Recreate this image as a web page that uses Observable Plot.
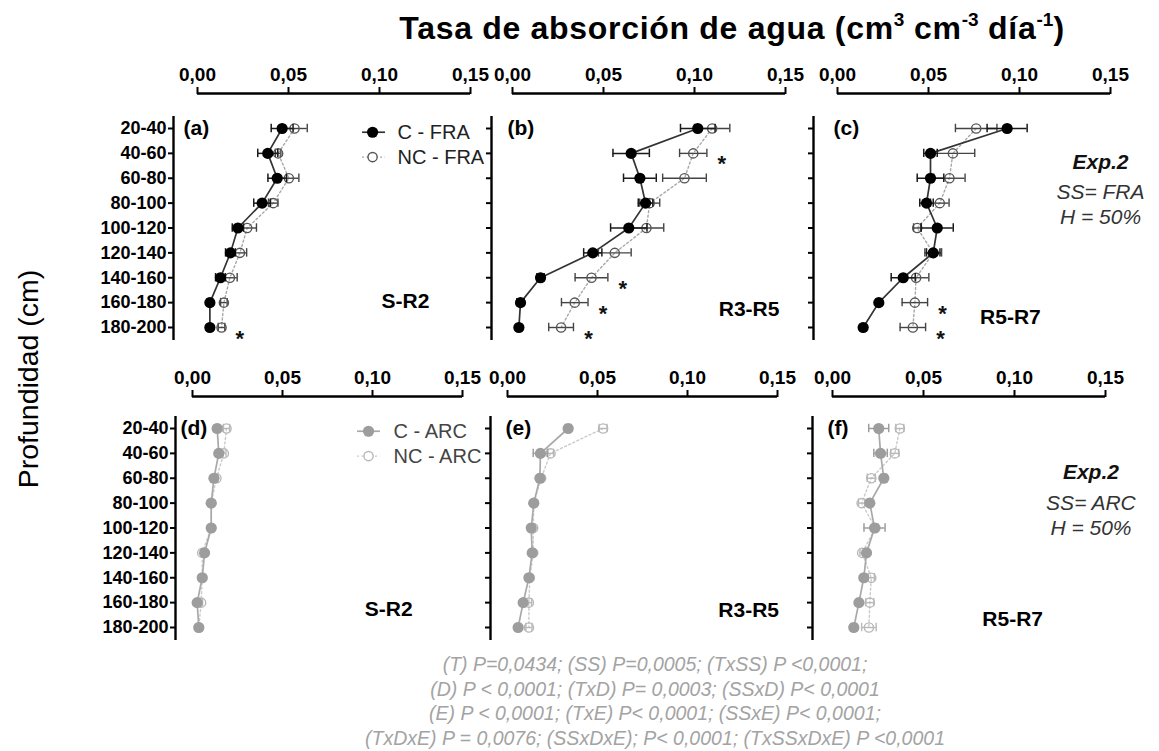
<!DOCTYPE html>
<html><head><meta charset="utf-8">
<script src="https://cdn.jsdelivr.net/npm/d3@7"></script>
<script src="https://cdn.jsdelivr.net/npm/@observablehq/plot@0.6"></script>
<style>
html,body{margin:0;padding:0;background:#fff;}
#root{position:relative;width:1159px;height:751px;overflow:hidden;font-family:"Liberation Sans",Arial,sans-serif;color:#000;}
.abs{position:absolute;}
#title{left:232px;width:1000px;top:9px;text-align:center;font-weight:bold;font-size:32px;letter-spacing:0.7px;white-space:nowrap;line-height:38px;}
#title sup{font-size:19px;vertical-align:0;position:relative;top:-13px;letter-spacing:0;}
#ytitle{left:28px;top:379px;transform:translate(-50%,-50%) rotate(-90deg);font-size:28.5px;white-space:nowrap;}
#caption{left:205px;width:900px;top:652px;text-align:center;font-style:italic;color:#a3a3a3;font-size:19.5px;line-height:24.7px;white-space:nowrap;}
</style></head><body><div id="root">
<div id="title" class="abs"></div>
<div id="ytitle" class="abs"></div>
<div id="caption" class="abs"></div>
</div><script>
// ---------- data ----------
const depths = ["20-40","40-60","60-80","80-100","100-120","120-140","140-160","160-180","180-200"];
const xTicks = [0, 0.05, 0.10, 0.15];
const panelLetters = ["(a)","(b)","(c)","(d)","(e)","(f)"];
const stages = ["S-R2","R3-R5","R5-R7"];
const seriesFRA = ["C - FRA","NC - FRA"];
const seriesARC = ["C - ARC","NC - ARC"];
const notesFRA = ["Exp.2","SS= FRA","H = 50%"];
const notesARC = ["Exp.2","SS= ARC","H = 50%"];
const titleText = "Tasa de absorción de agua (cm<sup>3</sup> cm<sup>-3</sup> día<sup>-1</sup>)";
const yTitleText = "Profundidad (cm)";
const captionLines = [
  "(T) P=0,0434; (SS) P=0,0005; (TxSS) P <0,0001;",
  "(D) P < 0,0001; (TxD) P= 0,0003; (SSxD) P< 0,0001",
  "(E) P < 0,0001; (TxE) P< 0,0001; (SSxE) P< 0,0001;",
  "(TxDxE) P = 0,0076; (SSxDxE); P< 0,0001; (TxSSxDxE) P <0,0001"
];

// (a) S-R2, FRA
const a_C     = [0.0465,0.0386,0.0438,0.0355,0.0222,0.0181,0.0126,0.0068,0.0068];
const a_C_err = [0.0060,0.0055,0.0051,0.0046,0.0031,0.0027,0.0027,0.0015,0.0005];
const a_NC    = [0.0533,0.0443,0.0502,0.0416,0.0273,0.0233,0.0178,0.0145,0.0132];
const a_NC_err= [0.0070,0.0015,0.0055,0.0026,0.0051,0.0037,0.0040,0.0018,0.0018];
const a_sig   = [0,0,0,0,0,0,0,0,1];
// (b) R3-R5, FRA
const b_C     = [0.1018,0.0652,0.0700,0.0731,0.0639,0.0441,0.0154,0.0044,0.0035];
const b_C_err = [0.0095,0.0100,0.0090,0.0040,0.0100,0.0050,0.0020,0.0020,0.0005];
const b_NC    = [0.1097,0.0993,0.0945,0.0754,0.0736,0.0562,0.0434,0.0342,0.0267];
const b_NC_err= [0.0097,0.0075,0.0120,0.0055,0.0095,0.0090,0.0090,0.0073,0.0068];
const b_sig   = [0,1,0,0,0,0,1,1,1];
// (c) R5-R7, FRA
const c_C     = [0.0932,0.0511,0.0511,0.0489,0.0548,0.0526,0.0361,0.0227,0.0141];
const c_C_err = [0.0110,0.0037,0.0073,0.0037,0.0088,0.0037,0.0066,0.0015,0.0008];
const c_NC    = [0.0762,0.0634,0.0615,0.0562,0.0438,0.0526,0.0432,0.0425,0.0414];
const c_NC_err= [0.0114,0.0120,0.0086,0.0051,0.0020,0.0046,0.0070,0.0070,0.0070];
const c_sig   = [0,0,0,0,0,0,0,1,1];
// (d) S-R2, ARC
const d_C     = [0.0137,0.0146,0.0119,0.0104,0.0104,0.0067,0.0054,0.0026,0.0035];
const d_C_err = [0.0008,0.0008,0.0008,0.0006,0.0006,0.0010,0.0006,0.0010,0.0006];
const d_NC    = [0.0189,0.0174,0.0133,0.0104,0.0104,0.0054,0.0054,0.0048,0.0035];
const d_NC_err= [0.0017,0.0012,0.0008,0.0005,0.0005,0.0008,0.0005,0.0008,0.0005];
const d_sig   = [0,0,0,0,0,0,0,0,0];
// (e) R3-R5, ARC
const e_C     = [0.0337,0.0183,0.0180,0.0146,0.0132,0.0137,0.0119,0.0087,0.0059];
const e_C_err = [0.0015,0.0040,0.0012,0.0010,0.0012,0.0012,0.0012,0.0012,0.0010];
const e_NC    = [0.0531,0.0239,0.0187,0.0146,0.0143,0.0143,0.0124,0.0119,0.0119];
const e_NC_err= [0.0022,0.0017,0.0012,0.0008,0.0010,0.0010,0.0010,0.0015,0.0017];
const e_sig   = [0,0,0,0,0,0,0,0,0];
// (f) R5-R7, ARC
const f_C     = [0.0254,0.0264,0.0282,0.0205,0.0231,0.0187,0.0172,0.0145,0.0117];
const f_C_err = [0.0055,0.0037,0.0015,0.0015,0.0058,0.0012,0.0012,0.0012,0.0015];
const f_NC    = [0.0370,0.0342,0.0213,0.0160,0.0236,0.0163,0.0213,0.0205,0.0200];
const f_NC_err= [0.0022,0.0022,0.0022,0.0017,0.0015,0.0012,0.0017,0.0022,0.0040];
const f_sig   = [0,0,0,0,0,0,0,0,0];

// ---------- layout / style ----------
const FONT = "Liberation Sans, Arial, sans-serif";
const rowsLayout = [
  {xAxisY: 93, row0: 128, row8: 327, yTopPx: 116, yBotPx: 340},
  {xAxisY: 396, row0: 428, row8: 627, yTopPx: 416, yBotPx: 640}
];
const colsLayout = [
  [{ax:173,x0:197,x15:470},{ax:491,x0:512,x15:785},{ax:813,x0:837,x15:1110}],
  [{ax:175,x0:192,x15:462},{ax:490,x0:507,x15:777},{ax:812,x0:832,x15:1105}]
];
const fraStyle = {cFill:"#000", cLine:"#333", cErr:"#1a1a1a", ncStroke:"#555", ncLine:"#a8a8a8", ncErr:"#444", text:"#222"};
const arcStyle = {cFill:"#9d9d9d", cLine:"#a9a9a9", cErr:"#9d9d9d", ncStroke:"#b8b8b8", ncLine:"#cacaca", ncErr:"#b8b8b8", text:"#444"};

const fmt = d => d3.format(".2f")(d).replace(".", ",");
const root = document.getElementById("root");
document.getElementById("title").innerHTML = titleText;
document.getElementById("ytitle").textContent = yTitleText;
document.getElementById("caption").innerHTML = captionLines.join("<br>");

function makePanel(p) {
  const L = rowsLayout[p.row], Cc = colsLayout[p.row][p.col];
  const ML = p.col === 0 ? 80 : 20;
  const MR = p.col === 2 ? (1159 - Cc.x15) : 14;
  const MT = 45, MB = 8;
  const width = ML + (Cc.x15 - Cc.ax) + MR;
  const height = MT + (L.yBotPx - L.xAxisY) + MB;
  const xmin = -(Cc.x0 - Cc.ax) / (Cc.x15 - Cc.x0) * 0.15;
  const r = (L.row8 - L.row0) / 8;
  const yT = (L.xAxisY - L.row0) / r, yB = (L.yBotPx - L.row0) / r, yA = (L.yTopPx - L.row0) / r;
  const st = p.style;
  const rows = depths.map((d, i) => ({i, depth: d, c: p.C[i], ce: p.Cerr[i], nc: p.NC[i], nce: p.NCerr[i], sig: p.sig[i]}));
  const cap = 0.17;
  const errMarks = (v, e, color, w) => [
    Plot.ruleY(rows, {y: "i", x1: d => d[v] - d[e], x2: d => d[v] + d[e], stroke: color, strokeWidth: w}),
    Plot.ruleX(rows, {x: d => d[v] - d[e], y1: d => d.i - cap, y2: d => d.i + cap, stroke: color, strokeWidth: w}),
    Plot.ruleX(rows, {x: d => d[v] + d[e], y1: d => d.i - cap, y2: d => d.i + cap, stroke: color, strokeWidth: w})
  ];
  const marks = [
    Plot.ruleX([xmin], {y1: yA, y2: yB, stroke: "#000", strokeWidth: 2.4}),
    Plot.ruleY([yT], {x1: 0, x2: 0.15, stroke: "#000", strokeWidth: 2.4}),
    Plot.axisX({anchor: "top", ticks: xTicks, tickFormat: fmt, tickSize: 7, tickPadding: 6, fontSize: 19, fontWeight: "bold", strokeWidth: 2, label: null}),
    Plot.axisY({anchor: "left", ticks: depths.map((_, i) => i), tickFormat: p.col === 0 ? (i => depths[i]) : (() => ""), tickSize: 5, tickPadding: 2, fontSize: 18, fontWeight: "bold", strokeWidth: 2, label: null}),
    Plot.line(rows, {x: "nc", y: "i", stroke: st.ncLine, strokeWidth: 1.4, strokeDasharray: "2,2.5"}),
    Plot.line(rows, {x: "c", y: "i", stroke: st.cLine, strokeWidth: 1.7}),
    ...errMarks("nc", "nce", st.ncErr, 1.4),
    Plot.dot(rows, {x: "nc", y: "i", r: 4.6, stroke: st.ncStroke, fill: "none", strokeWidth: 1.4}),
    ...errMarks("c", "ce", st.cErr, 1.5),
    Plot.dot(rows, {x: "c", y: "i", r: 5.6, fill: st.cFill, stroke: "none"}),
    Plot.text(rows.filter(d => d.sig), {x: d => Math.max(d.nc + d.nce, d.c + d.ce), y: "i", text: () => "*", dx: 15, dy: 11, fontSize: 22, fontWeight: "bold", fill: "#111"}),
    Plot.text([p.letter], {x: () => xmin, y: () => 0, text: d => d, dx: p.letterDx, textAnchor: "start", fontSize: 21, fontWeight: "bold"}),
    Plot.text([p.stage], {x: () => p.stageX, y: () => p.stageRow, text: d => d, fontSize: 21, fontWeight: "bold"})
  ];
  if (p.legend) {
    const lg = p.legend;
    marks.push(
      Plot.ruleY([lg.rows[0]], {x1: lg.x1, x2: lg.x2, stroke: st.cLine, strokeWidth: 1.7}),
      Plot.dot([lg.rows[0]], {x: () => lg.xd, y: d => d, r: 5.6, fill: st.cFill}),
      Plot.ruleY([lg.rows[1]], {x1: lg.x1, x2: lg.x2, stroke: st.ncLine, strokeWidth: 1.4, strokeDasharray: "2,2.5"}),
      Plot.dot([lg.rows[1]], {x: () => lg.xd, y: d => d, r: 4.6, stroke: st.ncStroke, fill: "white", strokeWidth: 1.4}),
      Plot.text(lg.names, {x: () => lg.xt, y: (d, i) => lg.rows[i], text: d => d, textAnchor: "start", fontSize: 20, fill: st.text})
    );
  }
  if (p.notes) {
    const n = p.notes;
    marks.push(
      Plot.text([n.text[0]], {x: () => n.x, y: () => n.rows[0], text: d => d, fontSize: 21, fontWeight: "bold", fontStyle: "italic", fill: "#111"}),
      Plot.text(n.text.slice(1), {x: () => n.x, y: (d, i) => n.rows[i + 1], text: d => d, fontSize: 21, fontStyle: "italic", fill: "#333"})
    );
  }
  const svg = Plot.plot({
    width, height, marginLeft: ML, marginRight: MR, marginTop: MT, marginBottom: MB,
    x: {domain: [xmin, 0.15]},
    y: {domain: [yB, yT]},
    style: {fontFamily: FONT, color: "#000", background: "transparent", overflow: "visible"},
    marks
  });
  svg.style.position = "absolute";
  svg.style.left = (Cc.ax - ML) + "px";
  svg.style.top = (L.xAxisY - MT) + "px";
  root.appendChild(svg);
}

makePanel({row:0, col:0, C:a_C, Cerr:a_C_err, NC:a_NC, NCerr:a_NC_err, sig:a_sig, style:fraStyle, letter:panelLetters[0], letterDx:10, stage:stages[0], stageX:0.1143, stageRow:6.95,
  legend:{rows:[0.15,1.15], x1:0.0907, x2:0.1033, xd:0.0962, xt:0.1099, names:seriesFRA}});
makePanel({row:0, col:1, C:b_C, Cerr:b_C_err, NC:b_NC, NCerr:b_NC_err, sig:b_sig, style:fraStyle, letter:panelLetters[1], letterDx:16, stage:stages[1], stageX:0.130, stageRow:7.25});
makePanel({row:0, col:2, C:c_C, Cerr:c_C_err, NC:c_NC, NCerr:c_NC_err, sig:c_sig, style:fraStyle, letter:panelLetters[2], letterDx:20, stage:stages[2], stageX:0.095, stageRow:7.6,
  notes:{text:notesFRA, x:0.1445, rows:[1.35,2.57,3.58]}});
makePanel({row:1, col:0, C:d_C, Cerr:d_C_err, NC:d_NC, NCerr:d_NC_err, sig:d_sig, style:arcStyle, letter:panelLetters[3], letterDx:5, stage:stages[0], stageX:0.109, stageRow:7.25,
  legend:{rows:[0.11,1.11], x1:0.0917, x2:0.1044, xd:0.0978, xt:0.1117, names:seriesARC}});
makePanel({row:1, col:1, C:e_C, Cerr:e_C_err, NC:e_NC, NCerr:e_NC_err, sig:e_sig, style:arcStyle, letter:panelLetters[4], letterDx:15, stage:stages[1], stageX:0.134, stageRow:7.3});
makePanel({row:1, col:2, C:f_C, Cerr:f_C_err, NC:f_NC, NCerr:f_NC_err, sig:f_sig, style:arcStyle, letter:panelLetters[5], letterDx:15, stage:stages[2], stageX:0.099, stageRow:7.65,
  notes:{text:notesARC, x:0.142, rows:[1.77,3.0,4.0]}});
</script></body></html>
